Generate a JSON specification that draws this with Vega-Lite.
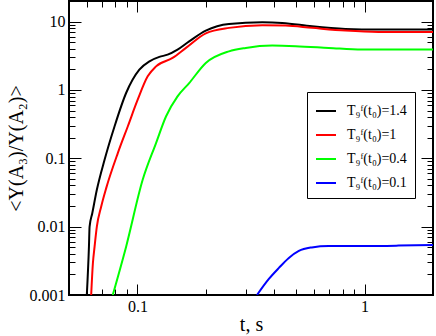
{
  "$schema": "https://vega.github.io/schema/vega-lite/v6.json",
  "width": 364,
  "height": 294,
  "autosize": {"type": "none"},
  "padding": {"left": 69, "top": 1, "right": 3, "bottom": 41},
  "config": {
    "view": {"stroke": "black", "strokeWidth": 2},
    "font": "Liberation Serif",
    "axis": {"grid": false, "domain": false, "tickColor": "black", "tickWidth": 1, "labelColor": "black", "titleColor": "black", "labelFont": "Liberation Serif", "titleFont": "Liberation Serif", "titleFontWeight": "normal", "labelFontSize": 16, "titleFontSize": 20}
  },
  "data": {
    "values": [
      {"t": 0.0598, "v": 0.0009, "s": "T₉ᶠ(t₀)=1.4"},
      {"t": 0.0612, "v": 0.0051, "s": "T₉ᶠ(t₀)=1.4"},
      {"t": 0.0616, "v": 0.0100, "s": "T₉ᶠ(t₀)=1.4"},
      {"t": 0.0633, "v": 0.0157, "s": "T₉ᶠ(t₀)=1.4"},
      {"t": 0.0663, "v": 0.0346, "s": "T₉ᶠ(t₀)=1.4"},
      {"t": 0.0717, "v": 0.0951, "s": "T₉ᶠ(t₀)=1.4"},
      {"t": 0.0793, "v": 0.292, "s": "T₉ᶠ(t₀)=1.4"},
      {"t": 0.0892, "v": 0.902, "s": "T₉ᶠ(t₀)=1.4"},
      {"t": 0.102, "v": 1.98, "s": "T₉ᶠ(t₀)=1.4"},
      {"t": 0.113, "v": 2.62, "s": "T₉ᶠ(t₀)=1.4"},
      {"t": 0.1249, "v": 3.04, "s": "T₉ᶠ(t₀)=1.4"},
      {"t": 0.1358, "v": 3.28, "s": "T₉ᶠ(t₀)=1.4"},
      {"t": 0.1502, "v": 3.89, "s": "T₉ᶠ(t₀)=1.4"},
      {"t": 0.169, "v": 5.14, "s": "T₉ᶠ(t₀)=1.4"},
      {"t": 0.200, "v": 7.38, "s": "T₉ᶠ(t₀)=1.4"},
      {"t": 0.253, "v": 9.25, "s": "T₉ᶠ(t₀)=1.4"},
      {"t": 0.3545, "v": 9.77, "s": "T₉ᶠ(t₀)=1.4"},
      {"t": 0.434, "v": 9.57, "s": "T₉ᶠ(t₀)=1.4"},
      {"t": 0.587, "v": 8.53, "s": "T₉ᶠ(t₀)=1.4"},
      {"t": 0.823, "v": 7.82, "s": "T₉ᶠ(t₀)=1.4"},
      {"t": 1.151, "v": 7.64, "s": "T₉ᶠ(t₀)=1.4"},
      {"t": 2.0, "v": 7.64, "s": "T₉ᶠ(t₀)=1.4"},
      {"t": 0.0625, "v": 0.0009, "s": "T₉ᶠ(t₀)=1"},
      {"t": 0.0637, "v": 0.00291, "s": "T₉ᶠ(t₀)=1"},
      {"t": 0.0648, "v": 0.0051, "s": "T₉ᶠ(t₀)=1"},
      {"t": 0.0663, "v": 0.0100, "s": "T₉ᶠ(t₀)=1"},
      {"t": 0.0693, "v": 0.0197, "s": "T₉ᶠ(t₀)=1"},
      {"t": 0.0729, "v": 0.0366, "s": "T₉ᶠ(t₀)=1"},
      {"t": 0.082, "v": 0.119, "s": "T₉ᶠ(t₀)=1"},
      {"t": 0.0907, "v": 0.292, "s": "T₉ᶠ(t₀)=1"},
      {"t": 0.1003, "v": 0.719, "s": "T₉ᶠ(t₀)=1"},
      {"t": 0.111, "v": 1.58, "s": "T₉ᶠ(t₀)=1"},
      {"t": 0.1208, "v": 2.21, "s": "T₉ᶠ(t₀)=1"},
      {"t": 0.1428, "v": 2.94, "s": "T₉ᶠ(t₀)=1"},
      {"t": 0.1636, "v": 4.12, "s": "T₉ᶠ(t₀)=1"},
      {"t": 0.200, "v": 6.74, "s": "T₉ᶠ(t₀)=1"},
      {"t": 0.253, "v": 8.09, "s": "T₉ᶠ(t₀)=1"},
      {"t": 0.3545, "v": 8.83, "s": "T₉ᶠ(t₀)=1"},
      {"t": 0.449, "v": 8.74, "s": "T₉ᶠ(t₀)=1"},
      {"t": 0.587, "v": 8.09, "s": "T₉ᶠ(t₀)=1"},
      {"t": 0.823, "v": 7.38, "s": "T₉ᶠ(t₀)=1"},
      {"t": 1.151, "v": 7.06, "s": "T₉ᶠ(t₀)=1"},
      {"t": 2.0, "v": 7.06, "s": "T₉ᶠ(t₀)=1"},
      {"t": 0.0779, "v": 0.001, "s": "T₉ᶠ(t₀)=0.4"},
      {"t": 0.0892, "v": 0.0051, "s": "T₉ᶠ(t₀)=0.4"},
      {"t": 0.1055, "v": 0.0484, "s": "T₉ᶠ(t₀)=0.4"},
      {"t": 0.1208, "v": 0.167, "s": "T₉ᶠ(t₀)=0.4"},
      {"t": 0.1336, "v": 0.409, "s": "T₉ᶠ(t₀)=0.4"},
      {"t": 0.1502, "v": 0.805, "s": "T₉ᶠ(t₀)=0.4"},
      {"t": 0.169, "v": 1.26, "s": "T₉ᶠ(t₀)=0.4"},
      {"t": 0.200, "v": 2.48, "s": "T₉ᶠ(t₀)=0.4"},
      {"t": 0.253, "v": 3.67, "s": "T₉ᶠ(t₀)=0.4"},
      {"t": 0.2999, "v": 4.12, "s": "T₉ᶠ(t₀)=0.4"},
      {"t": 0.392, "v": 4.45, "s": "T₉ᶠ(t₀)=0.4"},
      {"t": 0.497, "v": 4.37, "s": "T₉ᶠ(t₀)=0.4"},
      {"t": 0.695, "v": 4.12, "s": "T₉ᶠ(t₀)=0.4"},
      {"t": 0.973, "v": 3.89, "s": "T₉ᶠ(t₀)=0.4"},
      {"t": 2.0, "v": 3.89, "s": "T₉ᶠ(t₀)=0.4"},
      {"t": 0.336, "v": 0.001, "s": "T₉ᶠ(t₀)=0.1"},
      {"t": 0.379, "v": 0.00172, "s": "T₉ᶠ(t₀)=0.1"},
      {"t": 0.4196, "v": 0.00249, "s": "T₉ᶠ(t₀)=0.1"},
      {"t": 0.464, "v": 0.00348, "s": "T₉ᶠ(t₀)=0.1"},
      {"t": 0.5135, "v": 0.00441, "s": "T₉ᶠ(t₀)=0.1"},
      {"t": 0.5854, "v": 0.00497, "s": "T₉ᶠ(t₀)=0.1"},
      {"t": 0.695, "v": 0.00522, "s": "T₉ᶠ(t₀)=0.1"},
      {"t": 1.007, "v": 0.00522, "s": "T₉ᶠ(t₀)=0.1"},
      {"t": 1.41, "v": 0.00528, "s": "T₉ᶠ(t₀)=0.1"},
      {"t": 2.0, "v": 0.0054, "s": "T₉ᶠ(t₀)=0.1"}
    ]
  },
  "resolve": {"axis": {"x": "independent", "y": "independent"}},
  "layer": [
    {
      "mark": {"type": "line", "strokeWidth": 2, "clip": true, "interpolate": "monotone"},
      "encoding": {
        "x": {"field": "t", "type": "quantitative", "scale": {"type": "log", "domain": [0.05, 2], "nice": false},
          "axis": {"orient": "bottom", "values": [0.1, 1], "format": "~g", "tickSize": -11, "labelPadding": 14.5, "title": "t, s", "titlePadding": 0}},
        "y": {"field": "v", "type": "quantitative", "scale": {"type": "log", "domain": [0.001, 20], "nice": false},
          "axis": {"orient": "left", "values": [0.001, 0.01, 0.1, 1, 10], "format": "~g", "tickSize": -12, "labelPadding": 16, "title": "<Y(A₃)/Y(A₂)>", "titlePadding": 3}},
        "color": {"field": "s", "type": "nominal",
          "scale": {"domain": ["T₉ᶠ(t₀)=1.4", "T₉ᶠ(t₀)=1", "T₉ᶠ(t₀)=0.4", "T₉ᶠ(t₀)=0.1"], "range": ["#000000", "#ff0000", "#00ff00", "#0000ff"]},
          "legend": {"orient": "none", "legendX": 238, "legendY": 91, "title": null, "symbolType": "stroke", "symbolStrokeWidth": 2, "symbolSize": 400, "labelFontSize": 14, "labelFont": "Liberation Serif", "labelColor": "black", "strokeColor": "black", "fillColor": "white", "padding": 8, "rowPadding": 6, "labelOffset": 10}}
      }
    },
    {
      "mark": {"type": "point", "opacity": 0},
      "encoding": {
        "x": {"field": "t", "type": "quantitative", "scale": {"type": "log", "domain": [0.05, 2], "nice": false},
          "axis": {"orient": "bottom", "values": [0.06, 0.07, 0.08, 0.09, 0.2, 0.3, 0.4, 0.5, 0.6, 0.7, 0.8, 0.9, 2], "labels": false, "tickSize": -6, "title": null}},
        "y": {"field": "v", "type": "quantitative", "scale": {"type": "log", "domain": [0.001, 20], "nice": false},
          "axis": {"orient": "left", "values": [0.002, 0.003, 0.004, 0.005, 0.006, 0.007, 0.008, 0.009, 0.02, 0.03, 0.04, 0.05, 0.06, 0.07, 0.08, 0.09, 0.2, 0.3, 0.4, 0.5, 0.6, 0.7, 0.8, 0.9, 2, 3, 4, 5, 6, 7, 8, 9, 20], "labels": false, "tickSize": -6, "title": null}}
      }
    },
    {
      "mark": {"type": "point", "opacity": 0},
      "encoding": {
        "x": {"field": "t", "type": "quantitative", "scale": {"type": "log", "domain": [0.05, 2], "nice": false},
          "axis": {"orient": "top", "values": [0.1, 1], "labels": false, "tickSize": -11, "title": null}},
        "y": {"field": "v", "type": "quantitative", "scale": {"type": "log", "domain": [0.001, 20], "nice": false},
          "axis": {"orient": "right", "values": [0.001, 0.01, 0.1, 1, 10], "labels": false, "tickSize": -12, "title": null}}
      }
    },
    {
      "mark": {"type": "point", "opacity": 0},
      "encoding": {
        "x": {"field": "t", "type": "quantitative", "scale": {"type": "log", "domain": [0.05, 2], "nice": false},
          "axis": {"orient": "top", "values": [0.06, 0.07, 0.08, 0.09, 0.2, 0.3, 0.4, 0.5, 0.6, 0.7, 0.8, 0.9, 2], "labels": false, "tickSize": -6, "title": null}},
        "y": {"field": "v", "type": "quantitative", "scale": {"type": "log", "domain": [0.001, 20], "nice": false},
          "axis": {"orient": "right", "values": [0.002, 0.003, 0.004, 0.005, 0.006, 0.007, 0.008, 0.009, 0.02, 0.03, 0.04, 0.05, 0.06, 0.07, 0.08, 0.09, 0.2, 0.3, 0.4, 0.5, 0.6, 0.7, 0.8, 0.9, 2, 3, 4, 5, 6, 7, 8, 9, 20], "labels": false, "tickSize": -6, "title": null}}
      }
    }
  ]
}
